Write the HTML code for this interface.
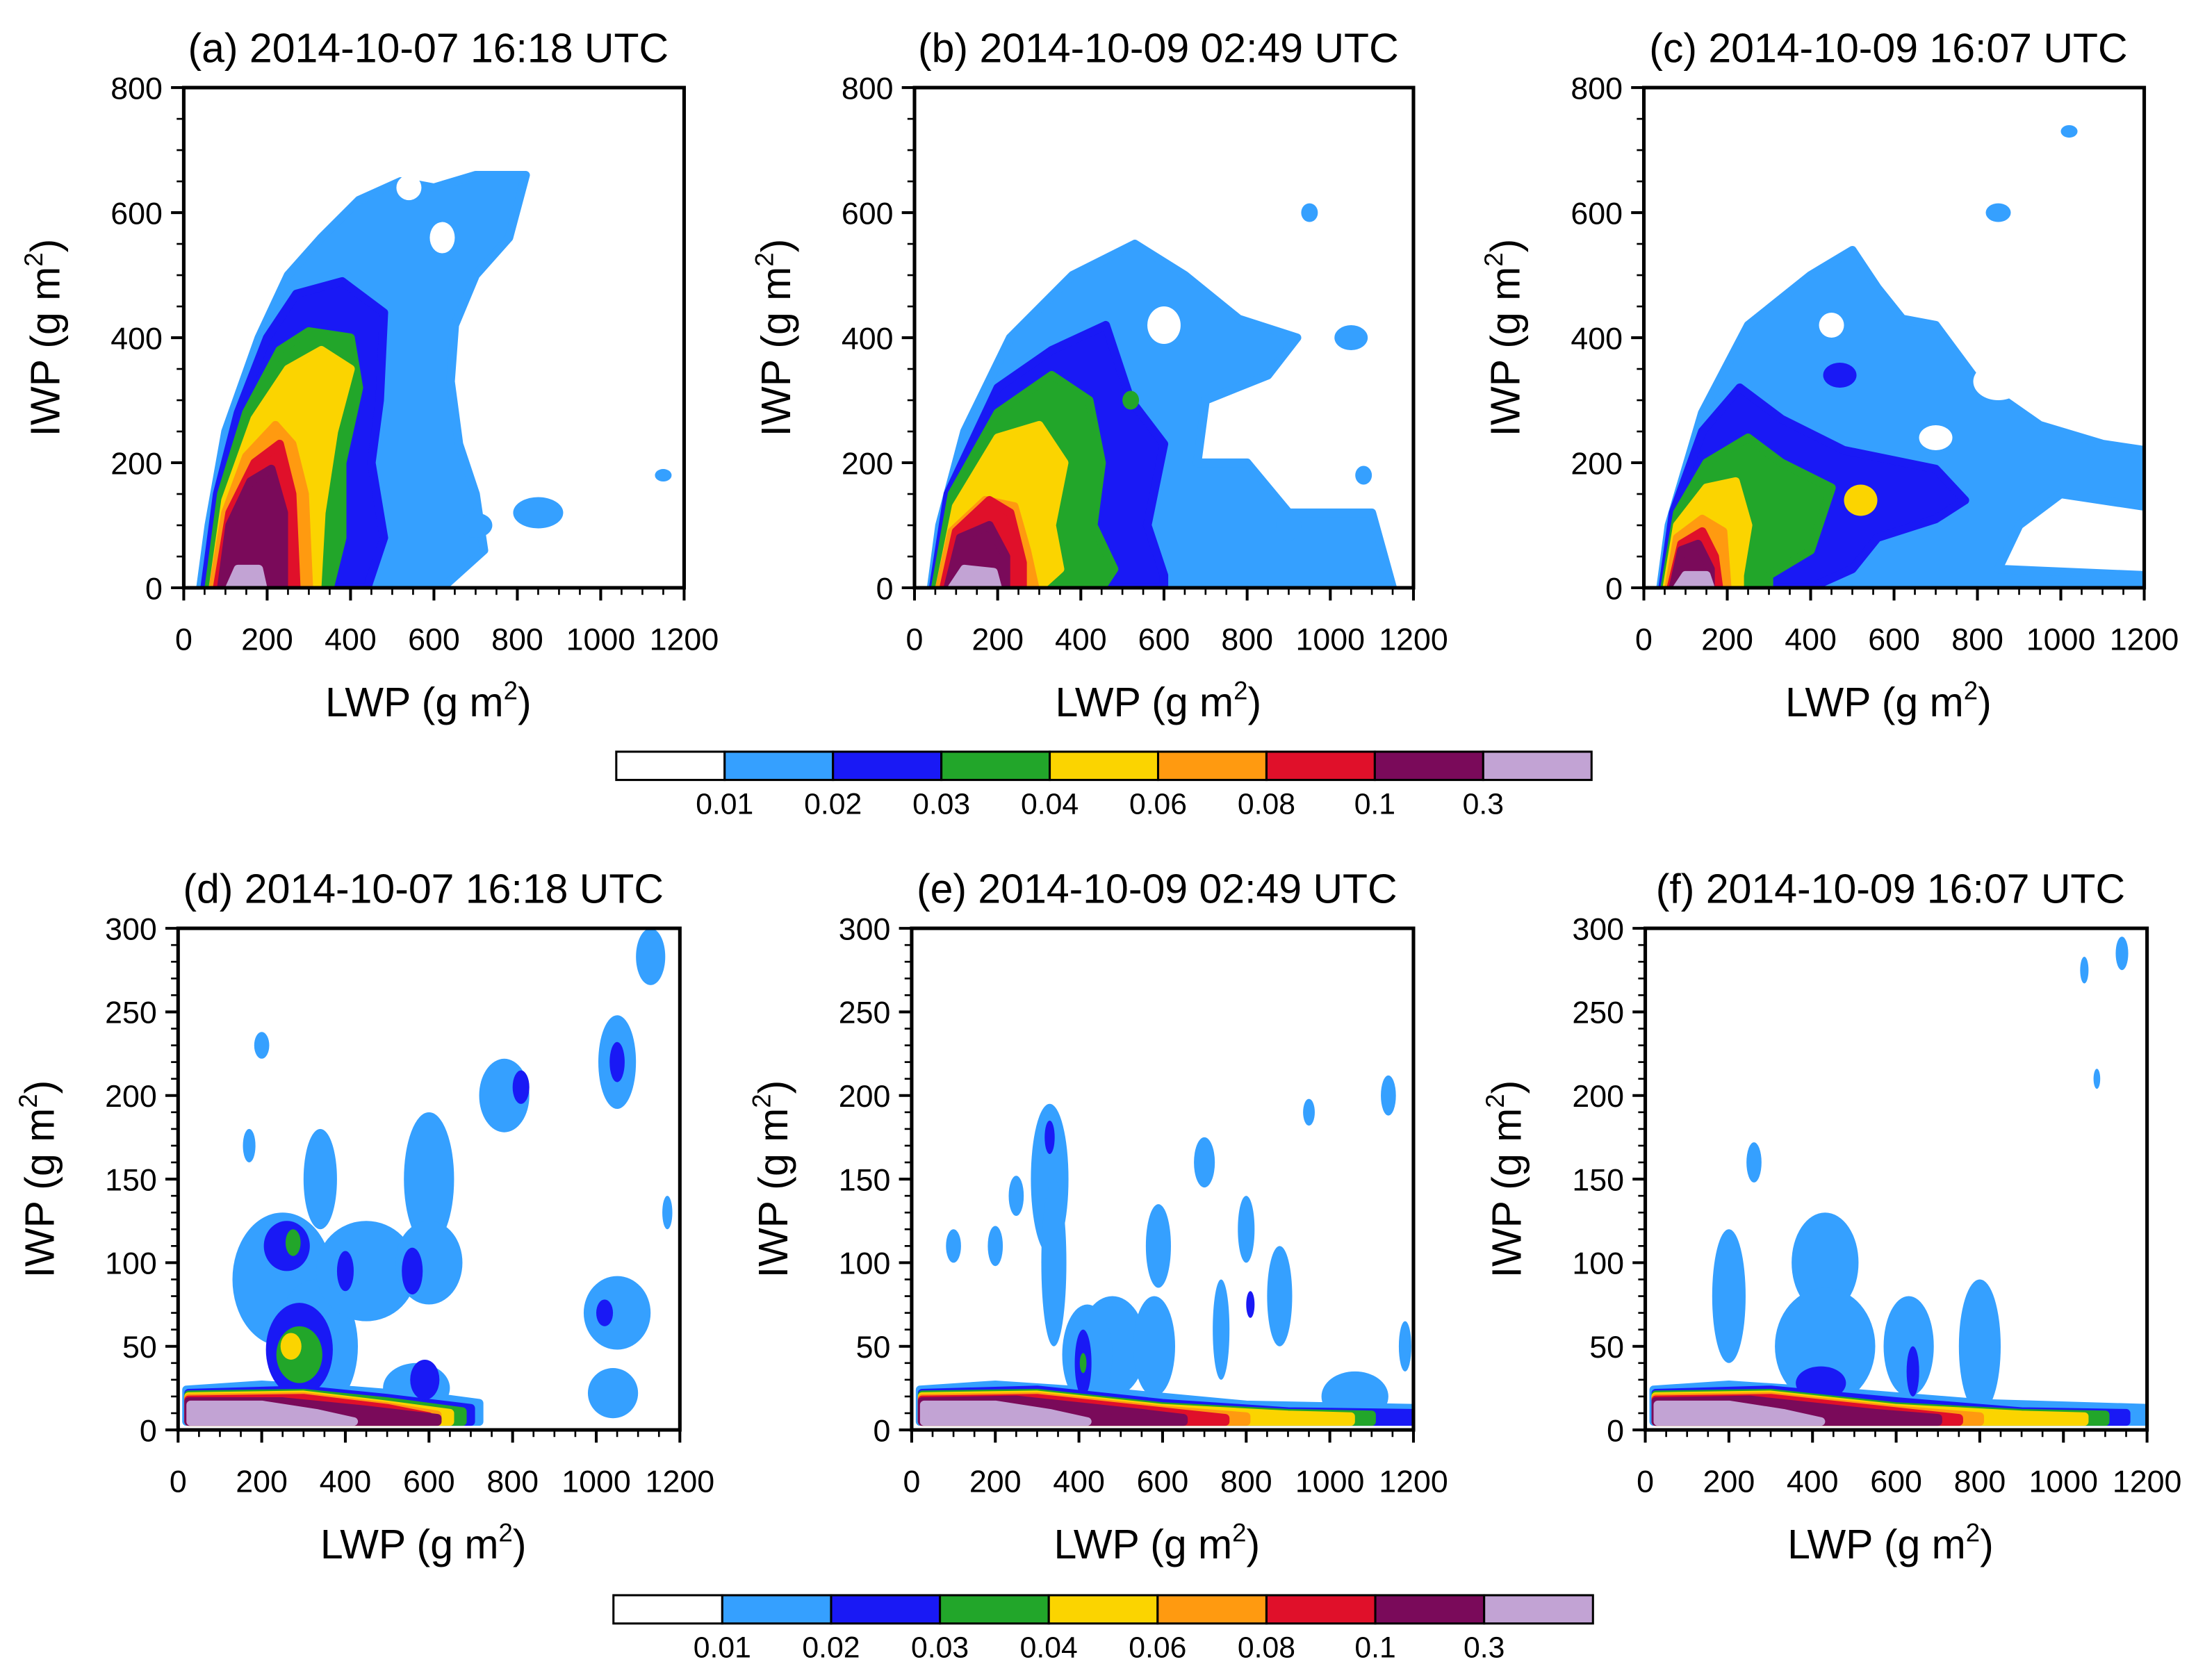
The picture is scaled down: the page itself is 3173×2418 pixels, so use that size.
<!DOCTYPE html>
<html><head><meta charset="utf-8"><style>
html,body{margin:0;padding:0;background:#fff}
svg{display:block}
text{font-family:"Liberation Sans",sans-serif;fill:#000}
</style></head><body>
<svg id="fig" xmlns="http://www.w3.org/2000/svg" width="3173" height="2418" viewBox="0 0 1560 1189" preserveAspectRatio="none"></svg>
<script>
const colors=["#ffffff","#35a0ff","#1919f5","#22a62a","#fbd400","#ff9a10","#e0102a","#7a0a5a","#c2a3d4"];
const cbLabels=["0.01","0.02","0.03","0.04","0.06","0.08","0.1","0.3"];
const titles=["(a) 2014-10-07 16:18 UTC","(b) 2014-10-09 02:49 UTC","(c) 2014-10-09 16:07 UTC","(d) 2014-10-07 16:18 UTC","(e) 2014-10-09 02:49 UTC","(f) 2014-10-09 16:07 UTC"];
const xTicks=[0,200,400,600,800,1000,1200];
const yTicksTop=[0,200,400,600,800];
const yTicksBot=[0,50,100,150,200,250,300];
// polygons: [level, [[lwp,iwp],...]]
const polysA=[
[1,[[40,0],[60,100],[100,250],[180,400],[250,500],[330,560],[420,620],[520,650],[600,640],[700,660],[820,660],[780,560],[700,500],[650,420],[640,330],[660,230],[700,150],[720,60],[620,0]]],
[2,[[50,0],[80,150],[130,280],[200,400],[270,470],[380,490],[480,440],[470,300],[450,200],[480,80],[440,0]]],
[3,[[60,0],[90,150],[150,280],[230,380],[300,410],[400,400],[420,320],[380,200],[380,80],[350,0]]],
[4,[[70,0],[100,140],[170,270],[250,350],[330,380],[400,350],[360,250],[330,120],[320,0]]],
[5,[[70,0],[100,120],[150,210],[220,260],[260,230],[290,150],[300,0]]],
[6,[[80,0],[110,120],[170,200],[230,230],[260,150],[270,0]]],
[7,[[90,0],[110,100],[160,170],[210,190],[240,120],[240,0]]],
[8,[[110,0],[130,30],[180,30],[190,0]]]];
const polysB=[
[1,[[40,0],[60,100],[120,250],[230,400],[380,500],[530,550],[650,500],[780,430],[920,400],[850,340],[700,300],[680,200],[800,200],[900,120],[1100,120],[1150,0]]],
[2,[[45,0],[80,150],[200,320],[330,380],[460,420],[520,300],[600,230],[560,100],[600,20],[600,0]]],
[3,[[50,0],[90,150],[200,280],[330,340],[420,300],[450,200],[430,100],[480,30],[450,0]]],
[4,[[60,0],[100,130],[200,240],[300,260],[360,200],[330,100],[350,30],[300,0]]],
[5,[[60,0],[90,90],[170,140],[240,130],[270,60],[290,0]]],
[6,[[70,0],[100,90],[180,140],[230,120],[260,40],[260,0]]],
[7,[[80,0],[110,80],[180,100],[220,50],[220,0]]],
[8,[[90,0],[120,30],[190,25],[200,0]]]];
const polysC=[
[1,[[40,0],[60,100],[140,280],[250,420],[400,500],[500,540],[560,480],[620,430],[700,420],[800,330],[950,260],[1100,230],[1200,220],[1200,130],[1000,150],[900,100],[850,30],[1200,20],[1200,0]]],
[2,[[45,0],[70,120],[140,250],[230,320],[330,270],[480,220],[700,190],[770,140],[700,110],[560,80],[500,30],[400,0]]],
[3,[[50,0],[80,120],[150,200],[250,240],[330,200],[450,160],[400,60],[300,20],[300,0]]],
[4,[[55,0],[80,100],[150,160],[220,170],[250,100],[230,20],[230,0]]],
[5,[[60,0],[80,80],[140,110],[190,90],[200,0]]],
[6,[[65,0],[90,70],[140,90],[170,50],[180,0]]],
[7,[[70,0],[90,60],[130,70],[160,30],[160,0]]],
[8,[[80,0],[100,20],[150,20],[160,0]]]];
// blobs: [level, lwp, iwp, rx, ry]
const blobsA=[[1,850,120,60,25],[1,1150,180,20,10],[1,700,100,40,20],[0,540,640,30,20],[0,620,560,30,25]];
const blobsB=[[1,950,600,20,15],[1,1050,400,40,20],[1,1080,180,20,15],[1,900,100,30,25],[0,600,420,40,30],[3,520,300,20,15],[0,800,250,30,20]];
const blobsC=[[1,1020,730,20,10],[1,850,600,30,15],[0,450,420,30,20],[2,470,340,40,20],[0,700,240,40,20],[0,850,330,60,30],[4,520,140,40,25]];
const bandD=[[1,[[20,5],[20,24],[200,27],[400,24],[600,20],[720,16],[720,5]]],[2,[[25,5],[25,22],[300,24],[500,19],[700,13],[700,5]]],[3,[[25,5],[25,21],[300,22],[500,17],[680,11],[680,5]]],[4,[[25,5],[25,20],[300,21],[500,15],[650,10],[650,5]]],[5,[[25,5],[25,19],[300,20],[500,14],[620,9],[620,5]]],[6,[[25,5],[25,18],[300,19],[500,13],[600,8],[600,5]]],[7,[[25,5],[25,17],[250,17],[450,12],[620,7],[620,5]]],[8,[[30,5],[30,15],[200,15],[330,10],[420,5]]]];
const bandE=[[1,[[20,5],[20,24],[200,27],[500,22],[800,15],[1200,13],[1200,5]]],[2,[[25,5],[25,22],[300,24],[600,16],[900,11],[1200,10],[1200,5]]],[3,[[25,5],[25,21],[300,22],[600,14],[900,10],[1100,9],[1100,5]]],[4,[[25,5],[25,20],[300,21],[600,13],[900,9],[1050,8],[1050,5]]],[5,[[25,5],[25,19],[300,20],[600,12],[800,8],[800,5]]],[6,[[25,5],[25,18],[300,19],[600,11],[750,7],[750,5]]],[7,[[25,5],[25,17],[250,18],[550,10],[650,7],[650,5]]],[8,[[30,5],[30,15],[200,15],[330,10],[420,5]]]];
const bandF=[[1,[[20,5],[20,24],[200,27],[500,22],[800,16],[1200,13],[1200,5]]],[2,[[25,5],[25,22],[300,24],[600,17],[900,11],[1150,10],[1150,5]]],[3,[[25,5],[25,21],[300,22],[600,14],[900,10],[1100,9],[1100,5]]],[4,[[25,5],[25,20],[300,21],[600,13],[900,9],[1050,8],[1050,5]]],[5,[[25,5],[25,19],[300,20],[600,12],[800,8],[800,5]]],[6,[[25,5],[25,18],[300,19],[600,11],[750,7],[750,5]]],[7,[[25,5],[25,17],[250,18],[550,10],[700,7],[700,5]]],[8,[[30,5],[30,15],[200,15],[330,10],[420,5]]]];
const blobsD=[[1,200,230,18,8],[1,170,170,15,10],[1,340,150,40,30],[1,600,150,60,40],[1,780,200,60,22],[1,1050,220,45,28],[1,1130,283,35,17],[1,250,90,120,40],[1,330,50,100,40],[1,450,95,120,30],[1,600,100,80,25],[1,1050,70,80,22],[1,570,25,80,15],[1,1170,130,12,10],[1,1040,22,60,15],
[2,260,110,55,15],[2,290,48,80,28],[2,400,95,20,12],[2,560,95,25,14],[2,820,205,20,10],[2,1050,220,18,12],[2,1020,70,20,8],[2,590,30,35,12],
[3,275,112,18,8],[3,290,45,55,17],[4,270,50,25,8]];
const blobsE=[[1,330,150,45,45],[1,340,100,30,50],[1,480,50,80,30],[1,420,45,60,30],[1,700,160,25,15],[1,800,120,20,20],[1,880,80,30,30],[1,590,110,30,25],[1,250,140,18,12],[1,100,110,18,10],[1,200,110,18,12],[1,1140,200,18,12],[1,950,190,14,8],[1,1180,50,15,15],[1,1060,20,80,15],[1,740,60,20,30],[1,580,50,50,30],
[2,330,175,12,10],[2,410,40,20,20],[2,810,75,10,8],[3,410,40,8,6]];
const blobsF=[[1,260,160,18,12],[1,200,80,40,40],[1,430,100,80,30],[1,430,50,120,35],[1,800,50,50,40],[1,630,50,60,30],[1,1050,275,10,8],[1,1140,285,15,10],[1,1080,210,8,6],
[2,640,35,15,15],[2,420,28,60,10]];
const panels=[
{t:0,x0:130,y0:62,x1:484,y1:416,ymax:800,yt:yTicksTop,ymin:50,polys:polysA,blobs:blobsA},
{t:1,x0:647,y0:62,x1:1000,y1:416,ymax:800,yt:yTicksTop,ymin:50,polys:polysB,blobs:blobsB},
{t:2,x0:1163,y0:62,x1:1517,y1:416,ymax:800,yt:yTicksTop,ymin:50,polys:polysC,blobs:blobsC},
{t:3,x0:126,y0:657,x1:481,y1:1012,ymax:300,yt:yTicksBot,ymin:10,polys:bandD,blobs:blobsD},
{t:4,x0:645,y0:657,x1:1000,y1:1012,ymax:300,yt:yTicksBot,ymin:10,polys:bandE,blobs:blobsE},
{t:5,x0:1164,y0:657,x1:1519,y1:1012,ymax:300,yt:yTicksBot,ymin:10,polys:bandF,blobs:blobsF}];
const svg=document.getElementById('fig');const NS="http://www.w3.org/2000/svg";
function mk(tag,at,parent){const e=document.createElementNS(NS,tag);for(const k in at)e.setAttribute(k,at[k]);(parent||svg).appendChild(e);return e;}
const defs=mk('defs',{});
panels.forEach((p,i)=>{
 const sx=v=>p.x0+(v/1200)*(p.x1-p.x0);
 const sy=v=>p.y1-(v/p.ymax)*(p.y1-p.y0);
 const g=mk('g',{});
 
 
 const cp=mk('clipPath',{id:'cp'+i},defs);mk('rect',{x:p.x0,y:p.y0,width:p.x1-p.x0,height:p.y1-p.y0},cp);
 const cg=mk('g',{'clip-path':'url(#cp'+i+')'},g);
 
 
 const items=[];
 p.polys.forEach(q=>items.push({l:q[0],k:'p',d:q[1]}));
 p.blobs.forEach(b=>items.push({l:b[0],k:'e',d:b}));
 items.sort((a,b)=>(a.l===0?99:a.l)-(b.l===0?99:b.l));
 items.forEach(it=>{
  let e;
  if(it.k==='p'){e=mk('polygon',{points:it.d.map(pt=>sx(pt[0])+','+sy(pt[1])).join(' '),fill:colors[it.l],'stroke':colors[it.l],'stroke-width':6,'stroke-linejoin':'round'},cg);}
  else{const b=it.d;e=mk('ellipse',{cx:sx(b[1]),cy:sy(b[2]),rx:b[3]/1200*(p.x1-p.x0),ry:b[4]/p.ymax*(p.y1-p.y0),fill:colors[b[0]]},cg);}
  
  
 });
 const fr=mk('rect',{x:p.x0,y:p.y0,width:p.x1-p.x0,height:p.y1-p.y0,fill:'none',stroke:'#000','stroke-width':2.5},g);
 
 
 for(let v=0;v<=1200;v+=50){const maj=v%200===0;mk('line',{x1:sx(v),x2:sx(v),y1:p.y1,y2:p.y1+(maj?9:5),stroke:'#000','stroke-width':maj?2:1.3},g);}
 xTicks.forEach(v=>{const t=mk('text',{x:sx(v),y:p.y1+44,'font-size':22,'text-anchor':'middle'},g);t.textContent=v;
  
  });
 for(let v=0;v<=p.ymax;v+=p.ymin){const maj=p.yt.includes(v);mk('line',{x1:p.x0,x2:p.x0-(maj?9:5),y1:sy(v),y2:sy(v),stroke:'#000','stroke-width':maj?2:1.3},g);}
 p.yt.forEach(v=>{const t=mk('text',{x:p.x0-15,y:sy(v)+8,'font-size':22,'text-anchor':'end'},g);t.textContent=v;
  
  });
 const tt=mk('text',{x:(p.x0+p.x1)/2-4,y:p.y0-18,'font-size':29,'text-anchor':'middle'},g);tt.textContent=titles[p.t];
 
 
 const xt=mk('text',{x:(p.x0+p.x1)/2-4,y:p.y1+91,'font-size':29,'text-anchor':'middle'},g);
 xt.innerHTML='LWP (g m<tspan dy="-12" font-size="18">2</tspan><tspan dy="12">)</tspan>';
 
 
 const yx=p.x0-88;
 const yt=mk('text',{x:0,y:0,transform:'translate('+yx+','+(p.y0+p.y1)/2+') rotate(-90)','font-size':29,'text-anchor':'middle'},g);
 yt.innerHTML='IWP (g m<tspan dy="-12" font-size="18">2</tspan><tspan dy="12">)</tspan>';
 
 
});
[[436,532,1126],[434,1129,1127]].forEach((c,j)=>{
 const g=mk('g',{});
 
 
 const w=(c[2]-c[0])/colors.length;
 colors.forEach((col,k)=>{const r=mk('rect',{x:c[0]+k*w,y:c[1],width:w,height:20,fill:col,stroke:'#000','stroke-width':1.5},g);
  
  });
 cbLabels.forEach((l,k)=>{const t=mk('text',{x:c[0]+(k+1)*w,y:c[1]+44,'font-size':21,'text-anchor':'middle'},g);t.textContent=l;
  
  });
});
</script>
</body></html>
